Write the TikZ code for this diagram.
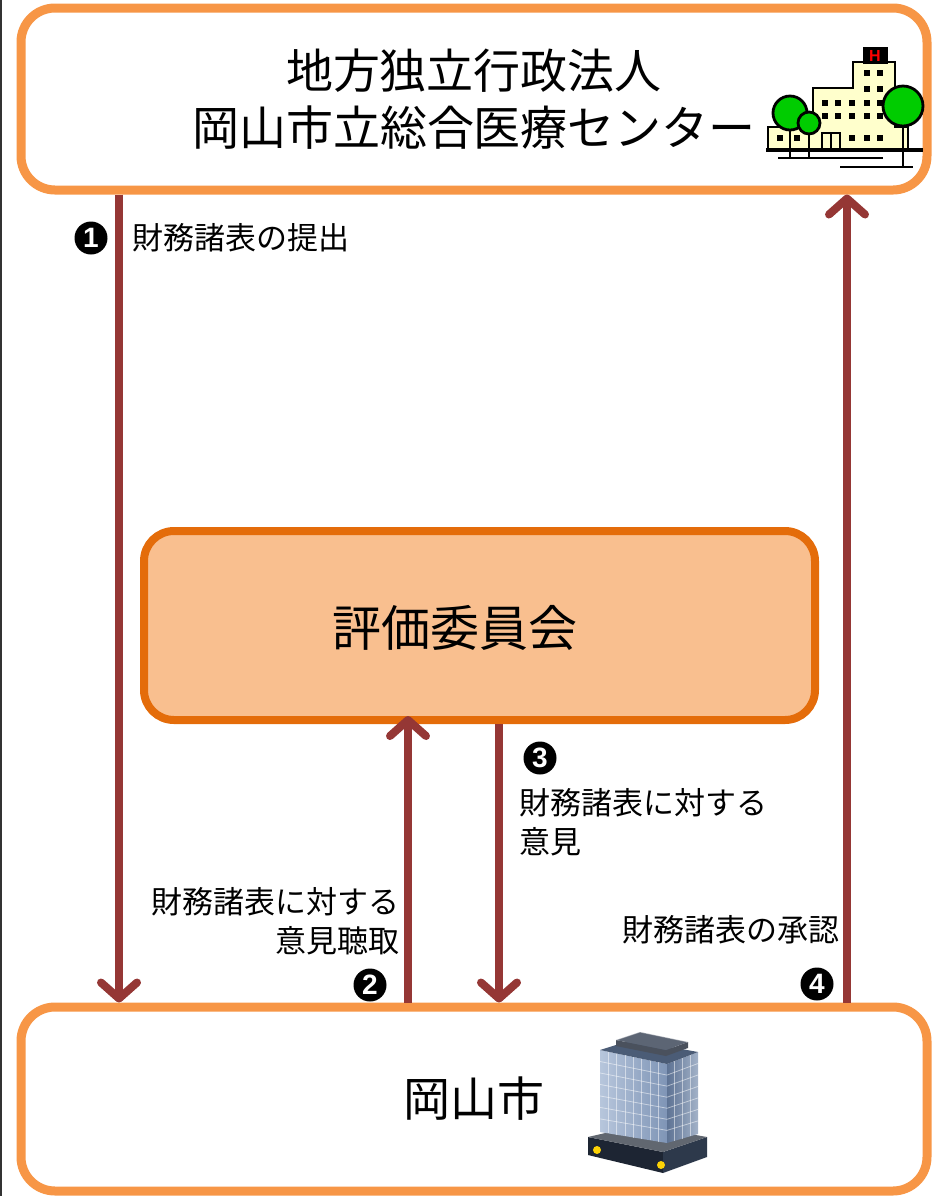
\documentclass[tikz,border=0pt]{standalone}
\usepackage{fontspec}
\setmainfont{Noto Sans CJK JP}
\newfontfamily\numfont{Liberation Sans}
\usepackage{xcolor}
\usetikzlibrary{calc, positioning, arrows.meta}

\definecolor{orgline}{HTML}{F79646}
\definecolor{cmtline}{HTML}{E46C0A}
\definecolor{cmtfill}{HTML}{F9BF8F}
\definecolor{flowred}{HTML}{953735}
\definecolor{hospfill}{HTML}{FFFFCC}
\definecolor{treegreen}{HTML}{00CC00}
\definecolor{glassA}{HTML}{B7C6DC}
\definecolor{glassB}{HTML}{7F95B6}
\definecolor{glassC}{HTML}{5E7394}
\definecolor{glassD}{HTML}{A3B2C8}
\definecolor{roofgray}{HTML}{5C6574}
\definecolor{basedark}{HTML}{1D2533}

\tikzset{
    orgbox/.style={draw=orgline, fill=white, line width=4.5pt, rounded corners=17pt,
        minimum width=453pt, align=center, font=\fontsize{23.5}{28.5}\selectfont},
    cmtbox/.style={draw=cmtline, fill=cmtfill, line width=4pt, rounded corners=15pt,
        minimum width=335.5pt, minimum height=94.5pt},
    flow/.style={draw=flowred, line width=4pt, ->},
    note/.style={inner sep=0pt, font=\fontsize{15.5}{19.5}\selectfont},
    badge/.style={circle, fill=black, text=white, inner sep=0pt, minimum size=16.5pt,
        font=\numfont\bfseries\fontsize{14}{14}\selectfont},
}

\begin{document}
\begin{tikzpicture}[x=0.5pt, y=-0.5pt, >={Straight Barb[length=8pt, width=18pt, round]}]
    \useasboundingbox (0,0) rectangle (941,1196);
    \draw[line width=1pt, black!80] (1,0) -- (1,1196);

    % Các khối
    \node[orgbox, minimum height=91pt] (hospital) at (474,99)
        {地方独立行政法人\\岡山市立総合医療センター};
    \node[cmtbox] (committee) at (479.5,625.5) {};
    \node[font=\fontsize{24.5}{24.5}\selectfont] (cmtlabel) at (455,628) {評価委員会};
    \node[orgbox, minimum height=92pt] (city) at (474,1099) {岡山市};

    % Các mũi tên
    \coordinate (x1) at (119,0);
    \coordinate (x2) at (408,0);
    \coordinate (x3) at (499,0);
    \coordinate (x4) at (847,0);
    \draw[flow] (hospital.south -| x1) -- (city.north -| x1);
    \draw[flow, shorten >=-4pt] (city.north -| x2) -- (committee.south -| x2);
    \draw[flow] (committee.south -| x3) -- (city.north -| x3);
    \draw[flow] (city.north -| x4) -- (hospital.south -| x4);

    % Nhãn
    \node[badge] (n1) at (91,238) {1};
    \node[note, anchor=west] (t1) at (132,238) {財務諸表の提出};
    \node[note, align=right, anchor=east] (t2) at (400,921) {財務諸表に対する\\意見聴取};
    \node[badge] (n2) at (370,985) {2};
    \node[badge] (n3) at (540,758) {3};
    \node[note, align=left, anchor=west] (t3) at (519,822) {財務諸表に対する\\意見};
    \node[note, anchor=east] (t4) at (840,930) {財務諸表の承認};
    \node[badge] (n4) at (817,984) {4};

    % Bệnh viện
    \filldraw[fill=hospfill, line width=1.2pt] (768,150) -- (768,127) -- (813,127) -- (813,88)
        -- (853,88) -- (853,62) -- (895,62) -- (895,127) -- (908,127) -- (908,150) -- cycle;
    \filldraw[fill=black] (863,47) rectangle (887,63);
    \node[text=red, inner sep=0pt, font=\numfont\bfseries\fontsize{8}{8}\selectfont] (hsign) at (875,55.5) {H};
    \foreach \wx/\wy in {867/73, 880/73, 867/89, 880/89,
                         825/103, 838/103, 852/103, 867/103, 880/103,
                         825/116, 838/116, 852/116, 867/116, 880/116,
                         780/138, 797/138, 852/138, 867/138, 880/138}
        \fill (\wx-3,\wy-3) rectangle (\wx+3,\wy+3);
    \draw[fill=hospfill, line width=1pt] (822,133) rectangle (831,150);
    \draw[fill=hospfill, line width=1pt] (831,133) rectangle (840,150);
    \draw[line width=2pt] (766,150) -- (923,150);
    \draw[line width=1.2pt] (790,130) -- (790,158) (809,134) -- (809,158) (903,126) -- (903,167);
    \filldraw[fill=treegreen, line width=1.4pt] (790,113) circle[radius=8.5pt];
    \filldraw[fill=treegreen, line width=1.4pt] (809,123) circle[radius=5.5pt];
    \filldraw[fill=treegreen, line width=1.4pt] (903,106) circle[radius=10pt];
    \draw[line width=1.2pt] (778,158) -- (883,158) (840,167) -- (913,167);

    % Tòa nhà thành phố
    \fill[basedark] (588,1137) -- (663,1152) -- (663,1173) -- (588,1155) -- cycle;
    \fill[basedark!75!glassC] (663,1152) -- (707,1137) -- (707,1157) -- (663,1173) -- cycle;
    \fill[basedark!70!white] (588,1137) -- (663,1152) -- (707,1137) -- (640,1125) -- cycle;
    \fill[yellow!70!orange] (597,1150) circle[radius=2pt] (661,1165) circle[radius=2pt];
    \coordinate (fA) at (600,1050);
    \coordinate (fB) at (667,1064);
    \coordinate (fC) at (667,1143);
    \coordinate (fD) at (600,1132);
    \coordinate (sB) at (698,1052);
    \coordinate (sC) at (698,1134);
    \shade[left color=glassA, right color=glassB] (fA) -- (fB) -- (fC) -- (fD) -- cycle;
    \shade[left color=glassC, right color=glassD] (fB) -- (sB) -- (sC) -- (fC) -- cycle;
    \fill[glassC!80!black] (fA) -- (fB) -- (sB) -- (632,1040) -- cycle;
    \foreach \t in {0.125,0.25,...,0.9}
        \draw[white, line width=0.4pt, opacity=0.5] ($(fA)!\t!(fB)$) -- ($(fD)!\t!(fC)$);
    \foreach \t in {0.14,0.28,...,0.9}
        \draw[white, line width=0.4pt, opacity=0.5] ($(fA)!\t!(fD)$) -- ($(fB)!\t!(fC)$)
            -- ($(sB)!\t!(sC)$);
    \foreach \t in {0.25,0.5,0.75}
        \draw[white, line width=0.4pt, opacity=0.5] ($(fB)!\t!(sB)$) -- ($(fC)!\t!(sC)$);
    \fill[roofgray!80!black] (616,1046) -- (666,1056) -- (688,1048) -- (688,1042) -- (666,1050)
        -- (616,1040) -- cycle;
    \fill[roofgray] (616,1040) -- (666,1050) -- (688,1042) -- (640,1032) -- cycle;
    \draw[white, opacity=0.4, line width=0.5pt] (616,1040) -- (640,1032) -- (688,1042);

\end{tikzpicture}
\end{document}
